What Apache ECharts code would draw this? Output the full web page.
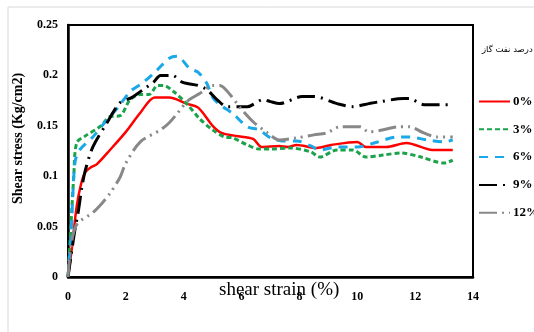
<!DOCTYPE html>
<html><head><meta charset="utf-8">
<script src="https://cdn.jsdelivr.net/npm/echarts@6/dist/echarts.min.js"></script>
<style>html,body{margin:0;padding:0;background:#fff}#c{width:534px;height:332px}</style>
</head><body><div id="c"></div>
<script>
const seriesNames = ['0%', '3%', '6%', '9%', '12%'];
const xTicks = [0, 2, 4, 6, 8, 10, 12, 14];
const yTicks = [0, 0.05, 0.1, 0.15, 0.2, 0.25];

const s0 = [[0,0],[0.14,0.03],[0.3,0.07],[0.45,0.092],[0.6,0.104],[0.8,0.109],[1.0,0.112],[1.45,0.126],[2.0,0.144],[2.5,0.163],[3.0,0.178],[3.5,0.178],[4.1,0.172],[4.5,0.168],[5.0,0.15],[5.3,0.143],[5.8,0.140],[6.4,0.137],[6.7,0.129],[7.3,0.130],[7.6,0.129],[7.9,0.131],[8.6,0.128],[9.1,0.131],[10.0,0.134],[10.3,0.129],[11.0,0.129],[11.7,0.133],[12.6,0.126],[13.3,0.126]];
const s3 = [[0,0],[0.1,0.05],[0.2,0.1],[0.3,0.133],[0.6,0.14],[1.1,0.149],[1.45,0.159],[1.8,0.16],[2.15,0.176],[2.5,0.181],[2.8,0.181],[3.1,0.19],[3.3,0.19],[3.65,0.184],[4.1,0.172],[4.55,0.157],[5.0,0.146],[5.4,0.139],[5.7,0.138],[6.2,0.131],[6.6,0.127],[7.0,0.127],[7.7,0.128],[8.4,0.124],[8.7,0.119],[9.3,0.126],[9.85,0.126],[10.3,0.119],[10.9,0.121],[11.5,0.123],[12.2,0.119],[13.0,0.113],[13.3,0.116]];
const s6 = [[0,0],[0.1,0.04],[0.17,0.083],[0.25,0.115],[0.4,0.126],[0.86,0.139],[1.35,0.156],[1.75,0.169],[2.15,0.184],[2.6,0.193],[3.07,0.205],[3.5,0.217],[3.77,0.219],[4.2,0.207],[4.5,0.203],[4.8,0.192],[5.0,0.178],[5.25,0.171],[5.7,0.162],[6.2,0.149],[6.6,0.146],[7.0,0.138],[7.4,0.135],[7.9,0.135],[8.4,0.13],[8.7,0.126],[9.3,0.129],[10.0,0.129],[10.7,0.134],[11.4,0.139],[11.8,0.139],[12.4,0.136],[13.0,0.134],[13.3,0.136]];
const s9 = [[0,0],[0.1,0.02],[0.24,0.047],[0.35,0.064],[0.48,0.089],[0.6,0.106],[0.86,0.129],[1.35,0.153],[1.8,0.173],[2.2,0.178],[2.6,0.186],[2.95,0.193],[3.2,0.2],[3.6,0.2],[3.97,0.193],[4.5,0.19],[4.8,0.186],[5.15,0.176],[5.5,0.169],[5.95,0.169],[6.2,0.169],[6.75,0.176],[7.0,0.174],[7.3,0.172],[8.1,0.179],[8.5,0.179],[9.3,0.172],[9.85,0.169],[10.4,0.172],[10.8,0.174],[11.6,0.177],[11.8,0.177],[12.3,0.171],[13.3,0.171]];
const s12 = [[0,0],[0.1,0.03],[0.3,0.052],[0.86,0.064],[1.17,0.073],[1.45,0.083],[1.8,0.099],[2.0,0.113],[2.5,0.134],[3.2,0.146],[3.5,0.153],[3.8,0.163],[4.15,0.175],[4.55,0.182],[5.0,0.19],[5.25,0.19],[5.6,0.181],[5.95,0.168],[6.4,0.154],[6.9,0.143],[7.3,0.136],[7.9,0.138],[8.5,0.141],[8.95,0.143],[9.4,0.149],[10.1,0.149],[10.4,0.144],[10.9,0.146],[11.4,0.149],[11.8,0.149],[12.3,0.143],[12.75,0.139],[13.3,0.139]];

const dataSets = [s0, s3, s6, s9, s12];
const colors = ['#ff0000', '#1aa34a', '#1aa8e8', '#000000', '#888888'];
const dashes = ['solid', [5, 3], [9, 7], [18, 6, 2, 6], [18, 5, 2, 5, 2, 5]];
const widths = [2.5, 3, 3, 3, 3];

const chart = echarts.init(document.getElementById('c'), null, {renderer: 'canvas'});
const serif = '"Liberation Serif", "Times New Roman", serif';
chart.setOption({
  animation: false,
  backgroundColor: '#fff',
  grid: {left: 68, top: 25, right: 61, bottom: 55, show: true, borderColor: '#000', borderWidth: 2, backgroundColor: 'transparent'},
  xAxis: {
    type: 'value', min: 0, max: 14, interval: 2,
    axisLine: {show: true, lineStyle: {color: '#000', width: 2.5}},
    axisTick: {show: false}, splitLine: {show: false},
    axisLabel: {color: '#000', fontFamily: serif, fontWeight: 'bold', fontSize: 12, margin: 14,
      formatter: v => xTicks.includes(v) ? String(v) : ''}
  },
  yAxis: {
    type: 'value', min: 0, max: 0.25, interval: 0.05,
    axisLine: {show: true, lineStyle: {color: '#000', width: 2.5}},
    axisTick: {show: false}, splitLine: {show: false},
    axisLabel: {color: '#000', fontFamily: serif, fontWeight: 'bold', fontSize: 12, margin: 10,
      formatter: v => { const t = yTicks.find(k => Math.abs(k - v) < 1e-9); return t === undefined ? '' : String(t); }}
  },
  legend: {
    show: true, orient: 'vertical', left: 473, top: 90, itemWidth: 31, itemHeight: 12, itemGap: 14.8,
    itemStyle: {opacity: 0},
    textStyle: {fontFamily: serif, fontWeight: 'bold', fontSize: 13, color: '#000', padding: [0, 0, 0, -2]},
    data: seriesNames
  },
  graphic: [
    {type: 'rect', shape: {x: 8, y: 7, width: 600, height: 400}, style: {fill: 'none', stroke: '#d8d8d8', lineWidth: 1}, silent: true, z: -1},
    {type: 'text', left: 219, top: 281, style: {text: 'shear strain (%)', font: '19px ' + serif, fill: '#000'}},
    {type: 'text', x: 11, y: 204, rotation: Math.PI / 2, style: {text: 'Shear stress (Kg/cm2)', font: 'bold 14px ' + serif, fill: '#000'}},
    {type: 'text', left: 482, top: 45, style: {text: 'درصد نفت گاز', font: '8.5px "DejaVu Sans", "Noto Sans", sans-serif', fill: '#000'}}
  ],
  series: dataSets.map((d, i) => ({
    name: seriesNames[i], type: 'line', data: d, smooth: 0.3, symbol: 'none',
    lineStyle: {color: colors[i], width: widths[i], type: dashes[i]},
    itemStyle: {color: colors[i]}
  }))
});
</script></body></html>
